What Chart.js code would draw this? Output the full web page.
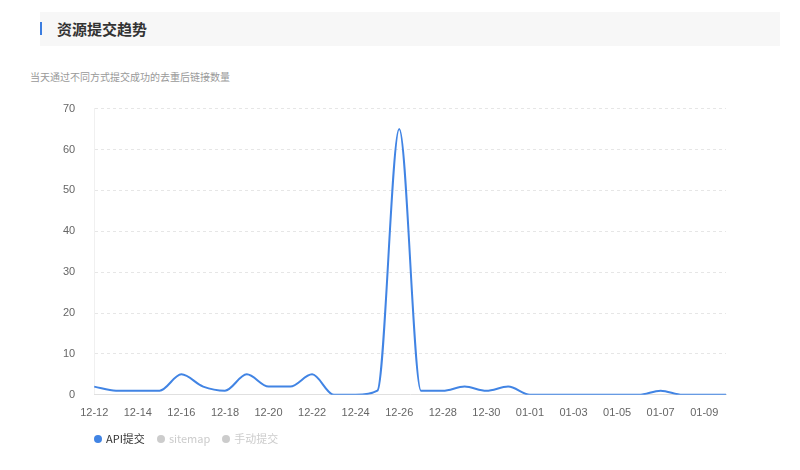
<!DOCTYPE html>
<html>
<head>
<meta charset="utf-8">
<script src="https://cdn.jsdelivr.net/npm/chart.js@4.4.1/dist/chart.umd.min.js"></script>
<style>
body { margin: 0; background: #fff; font-family: "Noto Sans CJK SC", "Noto Sans", sans-serif; }
#head { position: absolute; left: 40px; top: 12px; width: 740px; height: 34px; background: #f7f7f7; }
#bar { position: absolute; left: 40px; top: 22px; width: 2px; height: 13px; background: #3b7de0; }
#title { position: absolute; left: 57px; top: 19px; font-size: 15px; font-weight: bold; color: #333; line-height: 20px; }
#sub { position: absolute; left: 30px; top: 70px; font-size: 10px; color: #999; line-height: 14px; }
#wrap { position: absolute; left: 30px; top: 83px; width: 720px; height: 349px; }
#legend { position: absolute; left: 94px; top: 430px; font-size: 11px; line-height: 16px; }
#legend span { display: inline-block; margin-right: 12px; }
#legend i { display: inline-block; width: 8px; height: 8px; border-radius: 50%; margin-right: 4px; }
</style>
</head>
<body>
<div id="head"></div>
<div id="bar"></div>
<div id="title">资源提交趋势</div>
<div id="sub">当天通过不同方式提交成功的去重后链接数量</div>
<div id="wrap"><canvas id="trendChart"></canvas></div>
<div id="legend"></div>
<script>
const Dates = ['12-12','12-13','12-14','12-15','12-16','12-17','12-18','12-19','12-20','12-21',
'12-22','12-23','12-24','12-25','12-26','12-27','12-28','12-29','12-30','12-31',
'01-01','01-02','01-03','01-04','01-05','01-06','01-07','01-08','01-09','01-10'];
const ApiCounts = [2,1,1,1,5,2,1,5,2,2,5,0,0,1,65,1,1,2,1,2,0,0,0,0,0,0,1,0,0,0];
const SitemapCounts = [];
const ManualCounts = [];
const YTicks = [0,10,20,30,40,50,60,70];

const MainColor = '#4184e4';
const MutedColor = '#cccccc';

let ctx = document.getElementById('trendChart').getContext('2d');
let trendChart = new Chart(ctx, {
    type: 'line',
    data: {
        labels: Dates,
        datasets: [
            { label: 'API提交', data: ApiCounts, borderColor: MainColor, backgroundColor: MainColor,
              borderWidth: 2, pointRadius: 0, cubicInterpolationMode: 'monotone', fill: false },
            { label: 'sitemap', data: SitemapCounts, hidden: true, borderColor: MutedColor, backgroundColor: MutedColor, pointRadius: 0 },
            { label: '手动提交', data: ManualCounts, hidden: true, borderColor: MutedColor, backgroundColor: MutedColor, pointRadius: 0 }
        ]
    },
    options: {
        responsive: true,
        maintainAspectRatio: false,
        animation: false,
        layout: { padding: { left: 14, right: 24, top: 4, bottom: 0 } },
        plugins: {
            tooltip: { enabled: false },
            legend: { display: false }
        },
        scales: {
            y: {
                min: 0,
                max: 70,
                afterBuildTicks: (axis) => { axis.ticks = YTicks.map(v => ({ value: v })); },
                ticks: { color: '#666', font: { size: 11 }, padding: 19 },
                grid: { color: '#e6e6e6', drawTicks: false },
                border: { display: true, color: '#f0f0f0', dash: [3, 3] }
            },
            x: {
                ticks: {
                    color: '#666',
                    font: { size: 11 },
                    maxRotation: 0,
                    autoSkip: false,
                    padding: 12,
                    callback: function (value, index) {
                        return index % 2 === 0 ? this.getLabelForValue(value) : '';
                    }
                },
                grid: { display: false, drawTicks: false },
                border: { color: '#e0e0e0' }
            }
        }
    }
});

// legend drawn as html so it can sit where the original does
let legendHtml = trendChart.data.datasets.map((ds, i) => {
    const off = !trendChart.isDatasetVisible(i);
    const c = off ? MutedColor : MainColor;
    return `<span style="color:${off ? MutedColor : '#333'}"><i style="background:${c}"></i>${ds.label}</span>`;
}).join('');
document.getElementById('legend').innerHTML = legendHtml;
</script>
</body>
</html>
